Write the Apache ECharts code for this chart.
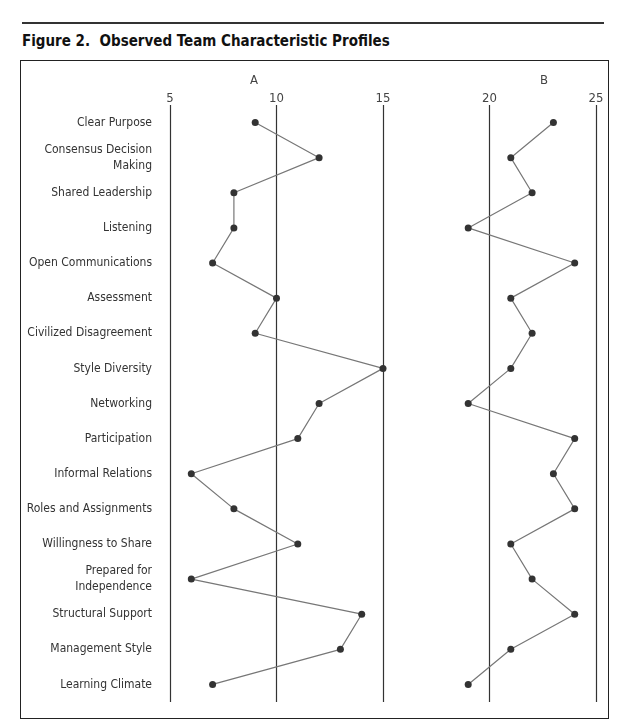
<!DOCTYPE html>
<html><head><meta charset="utf-8">
<script src="https://cdn.jsdelivr.net/npm/echarts@6/dist/echarts.min.js"></script>
<style>body{margin:0;background:#fff}#t{position:absolute;left:22px;top:22px;width:582px;border-top:2px solid #333;padding-top:8px;font:bold 15px 'DejaVu Sans Condensed','Liberation Sans',Arial;color:#111}
#b{position:absolute;left:20px;top:60px;width:587px;height:657px;border:1px solid #222}
#c{position:absolute;left:0;top:0;width:625px;height:724px}</style></head>
<body><div id="t">Figure 2.&nbsp; Observed Team Characteristic Profiles</div><div id="b"></div><div id="c"></div>
<script>
const categories=["Clear Purpose","Consensus Decision\nMaking","Shared Leadership","Listening","Open Communications","Assessment","Civilized Disagreement","Style Diversity","Networking","Participation","Informal Relations","Roles and Assignments","Willingness to Share","Prepared for\nIndependence","Structural Support","Management Style","Learning Climate"];
const seriesA=[9,12,8,8,7,10,9,15,12,11,6,8,11,6,14,13,7];
const seriesB=[23,21,22,19,24,21,22,21,19,24,23,24,21,22,24,21,19];
const tickLabels=[5,10,15,20,25];
const ch=echarts.init(document.getElementById('c'));
const f="'Liberation Sans Narrow','DejaVu Sans Condensed','Liberation Sans',Arial";
const mk=(d)=>({type:'line',data:d,symbol:'circle',symbolSize:7,itemStyle:{color:'#333'},lineStyle:{color:'#777',width:1.2}});
ch.setOption({animation:false,
grid:{left:170,right:29,top:105,bottom:22},
xAxis:{type:'value',min:5,max:25,interval:5,position:'top',axisLine:{show:false},axisTick:{show:false},
 axisLabel:{color:'#444',fontFamily:f,fontSize:13,margin:0,formatter:v=>tickLabels.includes(v)?v:''},
 splitLine:{lineStyle:{color:'#333',width:1.2}}},
yAxis:{type:'category',data:categories,inverse:true,axisLine:{show:false},axisTick:{show:false},
 axisLabel:{color:'#333',fontFamily:f,fontSize:12,margin:18,lineHeight:16,align:'right'}},
graphic:[{type:'text',left:250,top:74,style:{text:'A',fill:'#444',font:"13px "+f}},
{type:'text',left:540,top:74,style:{text:'B',fill:'#444',font:"13px "+f}}],
series:[mk(seriesA),mk(seriesB)]});
</script></body></html>
